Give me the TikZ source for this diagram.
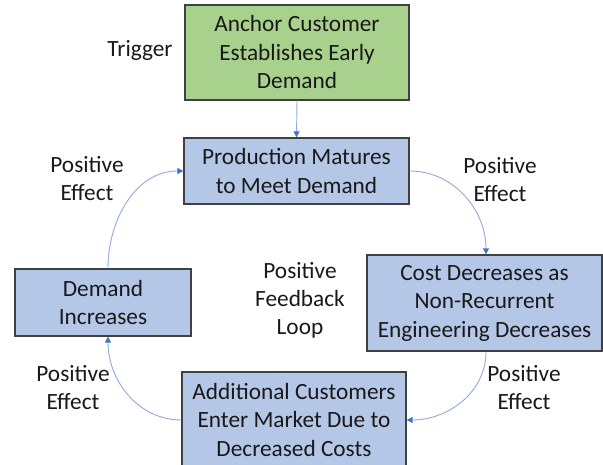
\documentclass[tikz,border=0pt]{standalone}
\usepackage{fontspec}
\setmainfont{Carlito}
\usetikzlibrary{arrows.meta}
\definecolor{boxgreen}{HTML}{A9D18E}
\definecolor{boxblue}{HTML}{B4C7E7}
\definecolor{boxline}{HTML}{404040}
\definecolor{linkline}{HTML}{8FAADC}
\definecolor{linktip}{HTML}{4472C4}
\tikzset{
  stagebox/.style={draw=boxline, line width=1.3pt, fill=boxblue, align=center,
    inner sep=0pt, font=\fontsize{23.3}{28.5}\selectfont, text=black!90},
  triggerbox/.style={stagebox, fill=boxgreen},
  caption/.style={align=center, font=\fontsize{23.3}{28}\selectfont, text=black!90},
  link/.style={draw=linkline, line width=0.9pt,
    -{Triangle[length=6pt,width=6pt,color=linktip]}}
}
\begin{document}
\begin{tikzpicture}[x=1pt,y=1pt]
\useasboundingbox (0,0) rectangle (603,465);
\clip (0,0) rectangle (603,465);

% boxes
\node[triggerbox, minimum width=224pt, minimum height=95pt] (anchor) at (297,412.5)
  {Anchor Customer\\Establishes Early\\Demand};
\node[stagebox, minimum width=225pt, minimum height=66pt] (prod) at (296.5,294)
  {Production Matures\\to Meet Demand};
\node[stagebox, minimum width=235pt, minimum height=96pt] (cost) at (484.5,162)
  {Cost Decreases as\\Non-Recurrent\\Engineering Decreases};
\node[stagebox, minimum width=224pt, minimum height=96pt] (addl) at (294,45)
  {Additional Customers\\Enter Market Due to\\Decreased Costs};
\node[stagebox, minimum width=176pt, minimum height=67pt] (dem) at (103,162.5)
  {Demand\\Increases};

% labels
\node[caption] (trig) at (140,415) {Trigger};
\node[caption] (pe1) at (87,286) {Positive\\Effect};
\node[caption] (pe2) at (500,285) {Positive\\Effect};
\node[caption] (loop) at (300,165) {Positive\\Feedback\\Loop};
\node[caption] (pe3) at (73,77) {Positive\\Effect};
\node[caption] (pe4) at (524,77) {Positive\\Effect};

% connectors
\draw[link] (anchor.south) -- (prod.north);
\draw[link] (prod.east) to[out=0,in=90] ([xshift=1.5pt]cost.north);
\draw[link] ([xshift=1.5pt]cost.south) to[out=-90,in=0] (addl.east);
\draw[link] (addl.west) to[out=180,in=-90] ([xshift=5pt]dem.south);
\draw[link] ([xshift=5pt]dem.north) to[out=90,in=180] (prod.west);
\end{tikzpicture}
\end{document}
